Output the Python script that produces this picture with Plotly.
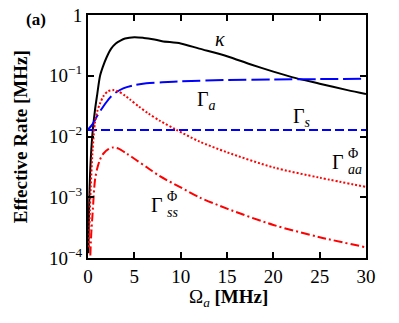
import plotly.graph_objects as go

# kappa (black solid)
x_kappa = [0.05, 0.1, 0.25, 0.5, 0.75, 1.0, 1.3, 1.6, 2.0, 2.5, 3.0, 3.5, 4.0, 5.0, 6.0, 7.0,
           8.0, 10, 12, 15, 17.5, 20, 22, 25, 28, 30]
y_kappa = [1.2e-4, 5e-4, 3e-3, 0.012, 0.027, 0.05, 0.1, 0.14, 0.2, 0.28, 0.34, 0.38, 0.41,
           0.43, 0.42, 0.40, 0.37, 0.34, 0.28, 0.21, 0.155, 0.117, 0.095, 0.074, 0.058, 0.05]

# Gamma_a (blue long dash)
x_ga = [0, 0.5, 1.0, 1.3, 2.0, 2.4, 3.0, 3.8, 5.0, 6.3, 8.0, 10, 15, 20, 25, 30]
y_ga = [0.013, 0.016, 0.022, 0.026, 0.037, 0.044, 0.053, 0.062, 0.07, 0.075, 0.078, 0.081,
        0.085, 0.087, 0.088, 0.089]

# Gamma_s (blue dash)
x_gs = [0, 30]
y_gs = [0.0128, 0.0128]

# Gamma_aa^Phi (red dotted)
x_gaa = [0.1, 0.2, 0.3, 0.5, 0.75, 1.0, 1.3, 1.7, 2.2, 2.7, 3.2, 4.0, 4.5, 5.5, 6.5, 7.8,
         9.5, 12, 15, 20, 25, 30]
y_gaa = [1.5e-4, 6e-4, 1.5e-3, 0.006, 0.017, 0.026, 0.035, 0.047, 0.056, 0.058, 0.056, 0.047,
         0.041, 0.031, 0.024, 0.018, 0.013, 0.0083, 0.0055, 0.0031, 0.0021, 0.00148]

# Gamma_ss^Phi (red dash-dot)
x_gss = [0.25, 0.35, 0.5, 0.75, 1.0, 1.3, 1.65, 2.2, 2.7, 3.3, 4.2, 5.2, 6.5, 7.8, 10, 12,
         15, 20, 25, 30]
y_gss = [1.1e-4, 2.5e-4, 5.5e-4, 0.0019, 0.003, 0.0042, 0.0052, 0.0062, 0.0066, 0.0063, 0.0052,
         0.0041, 0.003, 0.0022, 0.00145, 0.001, 0.00065, 0.00035, 0.00022, 0.00015]

y_ticks = [1e-4, 1e-3, 1e-2, 1e-1, 1]
y_ticktext = ["10<sup>−4</sup>", "10<sup>−3</sup>", "10<sup>−2</sup>", "10<sup>−1</sup>", "1"]
x_ticks = [0, 5, 10, 15, 20, 25, 30]

FONT = "Liberation Serif"

fig = go.Figure()
fig.add_trace(go.Scatter(x=x_kappa, y=y_kappa, mode="lines",
                         line=dict(color="black", width=2, shape="spline", smoothing=0.8)))
fig.add_trace(go.Scatter(x=x_ga, y=y_ga, mode="lines",
                         line=dict(color="#0000ff", width=2, dash="18px,5px", shape="spline", smoothing=0.8)))
fig.add_trace(go.Scatter(x=x_gs, y=y_gs, mode="lines",
                         line=dict(color="#0000ff", width=2, dash="9px,4px")))
fig.add_trace(go.Scatter(x=x_gaa, y=y_gaa, mode="lines",
                         line=dict(color="#ff0000", width=2, dash="2px,2px", shape="spline", smoothing=0.8)))
fig.add_trace(go.Scatter(x=x_gss, y=y_gss, mode="lines",
                         line=dict(color="#ff0000", width=2, dash="9px,3px,2px,3px", shape="spline", smoothing=0.8)))

ann = dict(showarrow=False, font=dict(family=FONT, size=20, color="black"))
fig.add_annotation(x=14.2, y=-0.40, text="<i>κ</i>", **ann)
fig.add_annotation(x=12.8, y=-1.40, text="Γ<sub><i>a</i></sub>", **ann)
fig.add_annotation(x=23.1, y=-1.68, text="Γ<sub><i>s</i></sub>", **ann)


def stacked_label(x, y, sub):
    fig.add_annotation(x=x, y=y, text="Γ", xanchor="right", **ann)
    fig.add_annotation(x=x, y=y, text="Φ", xanchor="left", yshift=9,
                       showarrow=False, font=dict(family=FONT, size=14, color="black"))
    fig.add_annotation(x=x, y=y, text="<i>" + sub + "</i>", xanchor="left", yshift=-7,
                       showarrow=False, font=dict(family=FONT, size=14, color="black"))


stacked_label(27.8, -2.42, "aa")
stacked_label(8.3, -3.13, "ss")

# panel label and axis titles
fig.add_annotation(x=-0.23, y=1.03, xref="paper", yref="paper", yanchor="top", text="<b>(a)</b>",
                   showarrow=False, font=dict(family=FONT, size=17, color="black"))
fig.add_annotation(x=-0.24, y=0.498, xref="paper", yref="paper", textangle=-90,
                   xanchor="center", yanchor="middle",
                   text="<b>Effective Rate [MHz]</b>", showarrow=False,
                   font=dict(family=FONT, size=19, color="black"))
fig.add_annotation(x=0.504, y=-0.165, xref="paper", yref="paper",
                   xanchor="center", yanchor="middle",
                   text="Ω<sub><i>a</i></sub> <b>[MHz]</b>", showarrow=False,
                   font=dict(family=FONT, size=19, color="black"))

fig.update_layout(
    width=399, height=323,
    margin=dict(l=80, r=41, t=7, b=73),
    paper_bgcolor="white", plot_bgcolor="white",
    showlegend=False,
    font=dict(family=FONT, size=19, color="black"),
)
fig.update_xaxes(range=[0, 30], tickvals=x_ticks, ticks="inside", ticklen=6, tickwidth=1.5,
                 tickcolor="black", mirror="ticks", showline=True, linecolor="black", linewidth=2,
                 showgrid=False, zeroline=False, automargin=False, ticklabeloverflow="allow")
fig.update_yaxes(type="log", range=[-4, 0], tickvals=y_ticks, ticktext=y_ticktext, ticks="inside",
                 ticklen=6, tickwidth=1.5, tickcolor="black", mirror="ticks", showline=True,
                 linecolor="black", linewidth=2, showgrid=False, zeroline=False, automargin=False,
                 ticklabeloverflow="allow")

fig.write_html("out.html")
